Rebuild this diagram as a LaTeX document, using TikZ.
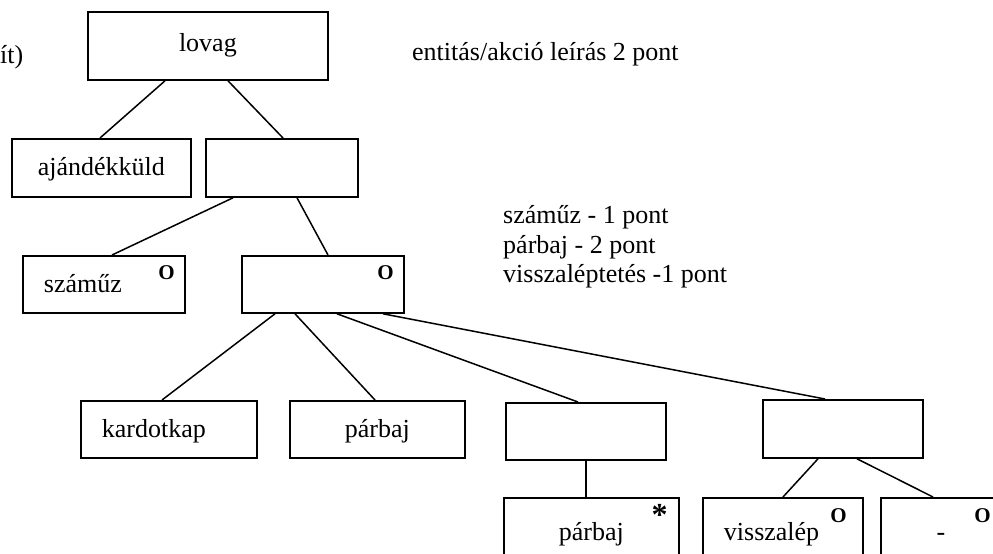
\documentclass[tikz,border=0pt]{standalone}
\usepackage{fontspec}
\setmainfont{Liberation Serif}
\usetikzlibrary{positioning}

\begin{document}
\begin{tikzpicture}[
  x=1pt, y=-1pt,
  box/.style={draw, line width=1.8pt, inner sep=0pt, anchor=north west,
              minimum height=58pt, text height=18pt, text depth=2pt,
              font=\fontsize{26}{30}\selectfont},
  link/.style={line width=1.5pt},
  corner/.style={font=\fontsize{21}{24}\selectfont\bfseries, inner sep=0pt, anchor=base east},
  note/.style={font=\fontsize{26}{30}\selectfont, inner sep=0pt, anchor=base west}
]
\useasboundingbox (0,0) rectangle (993,554);
\clip (0,0) rectangle (993,554);

% boxes of the tree
\node[box, minimum width=240pt, minimum height=68pt, text height=14pt] (lovag) at (87,11) {lovag};
\node[box, minimum width=179pt] (ajandek) at (11,138) {ajándékküld};
\node[box, minimum width=152pt] (kozep1) at (205,138) {};
\node[box, minimum height=57pt, inner xsep=21pt, text width=120pt, align=left] (szamuz) at (22,255) {száműz};
\node[box, minimum width=162pt, minimum height=57pt] (kozep2) at (241,255) {};
\node[box, minimum height=57pt, inner xsep=21pt, text width=134pt, align=left] (kardot) at (80,400) {kardotkap};
\node[box, minimum width=175pt, minimum height=57pt] (parbaj) at (289,400) {párbaj};
\node[box, minimum width=160pt, minimum height=57pt] (kozep3) at (505,402) {};
\node[box, minimum width=160pt] (kozep4) at (762,399) {};
\node[box, minimum width=175pt, minimum height=70pt] (parbajcs) at (503,497) {párbaj};
\node[box, minimum height=70pt, inner xsep=21pt, text width=118pt, align=left] (visszalep) at (702,497) {visszalép};
\node[box, minimum width=120pt, minimum height=70pt] (ures) at (880,497) {-};

% marks
\node[corner] (m1) at ([xshift=-11pt,yshift=-24pt]szamuz.north east) {O};
\node[corner] (m2) at ([xshift=-11pt,yshift=-24pt]kozep2.north east) {O};
\node[corner] (m3) at ([xshift=-17pt,yshift=-25pt]visszalep.north east) {O};
\node[corner] (m4) at ([xshift=-11pt,yshift=-25pt]ures.north east) {O};
\node[corner, font=\fontsize{32}{36}\selectfont\bfseries] (m5) at ([xshift=-12pt,yshift=-28pt]parbajcs.north east) {*};

% connectors
\draw[link] ([xshift=78pt]lovag.south west) -- ([xshift=89pt]ajandek.north west);
\draw[link] ([xshift=141pt]lovag.south west) -- ([xshift=78pt]kozep1.north west);
\draw[link] ([xshift=28pt]kozep1.south west) -- ([xshift=90pt]szamuz.north west);
\draw[link] ([xshift=92pt]kozep1.south west) -- ([xshift=87pt]kozep2.north west);
\draw[link] ([xshift=34pt]kozep2.south west) -- ([xshift=82pt]kardot.north west);
\draw[link] ([xshift=54pt]kozep2.south west) -- ([xshift=86pt]parbaj.north west);
\draw[link] ([xshift=96pt]kozep2.south west) -- ([xshift=73pt]kozep3.north west);
\draw[link] ([xshift=142pt]kozep2.south west) -- ([xshift=63pt]kozep4.north west);
\draw[link] ([xshift=81pt]kozep3.south west) -- ([xshift=83pt]parbajcs.north west);
\draw[link] ([xshift=56pt]kozep4.south west) -- ([xshift=81pt]visszalep.north west);
\draw[link] ([xshift=95pt]kozep4.south west) -- ([xshift=53pt]ures.north west);

% texts beside the tree
\node[note] (cut) at (0,63) {ít)};
\node[note] (leiras) at (412,60) {entitás/akció leírás 2 pont};
\node[note] (pont1) at (503,223) {száműz - 1 pont};
\node[note] (pont2) at (503,253) {párbaj - 2 pont};
\node[note] (pont3) at (503,282) {visszaléptetés -1 pont};
\end{tikzpicture}
\end{document}
